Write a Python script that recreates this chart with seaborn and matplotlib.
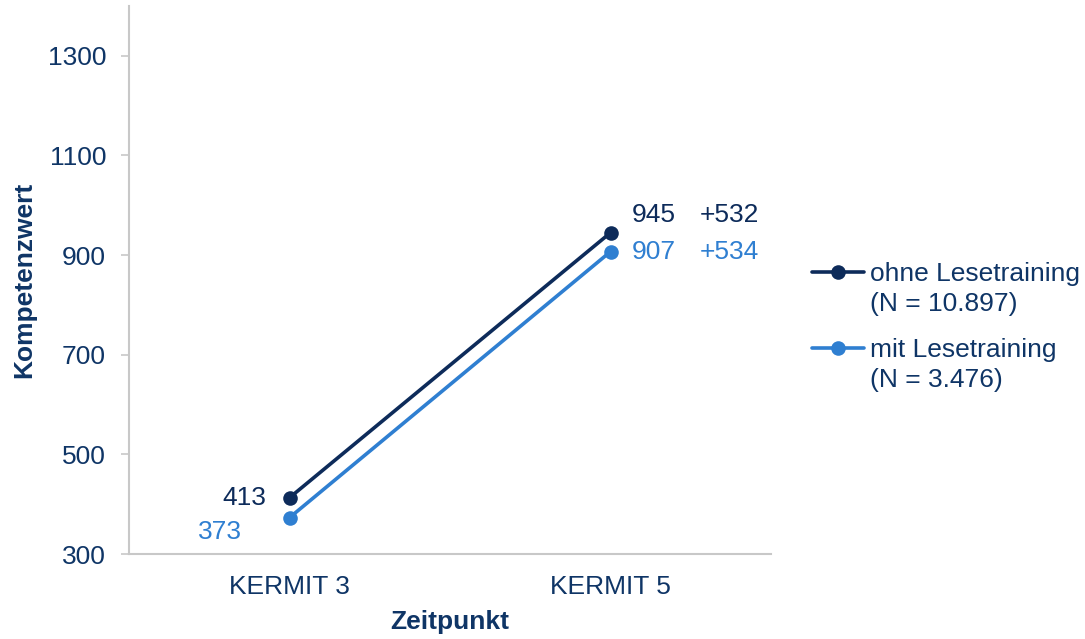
import matplotlib
matplotlib.use("Agg")
import matplotlib.pyplot as plt
from matplotlib.lines import Line2D
import seaborn as sns
import pandas as pd

zeitpunkte = ["KERMIT 3", "KERMIT 5"]
gruppen = ["ohne Lesetraining", "mit Lesetraining"]
stichproben = ["(N = 10.897)", "(N = 3.476)"]
ohne_werte = [413, 945]
mit_werte = [373, 907]
zuwachs = ["+532", "+534"]

navy = "#0d2b5a"
hellblau = "#2f7fd1"
textfarbe = "#0f3566"
fs = 19

sns.set_theme(style="white")
plt.rcParams["font.family"] = ["Liberation Sans", "DejaVu Sans"]

df = pd.DataFrame({
    "Zeitpunkt": zeitpunkte * 2,
    "Kompetenzwert": ohne_werte + mit_werte,
    "Gruppe": [gruppen[0]] * 2 + [gruppen[1]] * 2,
})

fig = plt.figure(figsize=(10.85, 6.39), dpi=100)
ax = fig.add_axes([0.1189, 0.133, 0.5917, 0.8576])

sns.lineplot(data=df, x="Zeitpunkt", y="Kompetenzwert", hue="Gruppe",
             palette=[navy, hellblau], marker="o", markersize=10.5,
             markeredgewidth=0, linewidth=2.6, ax=ax)

ax.set_xlim(-0.5, 1.5)
ax.set_ylim(300, 1400)
ax.set_yticks(range(300, 1301, 200))

for s in ["top", "right"]:
    ax.spines[s].set_visible(False)
for s in ["left", "bottom"]:
    ax.spines[s].set_color("#c8c8c8")
    ax.spines[s].set_linewidth(1.5)

ax.tick_params(axis="y", left=True, length=5.5, width=1.2, color="#c8c8c8",
               labelsize=fs, labelcolor=textfarbe, pad=11)
ax.tick_params(axis="x", bottom=False, length=0, labelsize=fs,
               labelcolor=textfarbe, pad=15)

ax.set_xlabel("Zeitpunkt", fontsize=19, fontweight="bold", color=textfarbe, labelpad=8)
ax.set_ylabel("Kompetenzwert", fontsize=19, fontweight="bold", color=textfarbe, labelpad=8)

# value labels at the points
ax.annotate(str(ohne_werte[0]), (0, ohne_werte[0]), xytext=(-17, 0), textcoords="offset points",
            ha="right", va="center", fontsize=fs, color=navy)
ax.annotate(str(mit_werte[0]), (0, mit_werte[0]), xytext=(-34, -10), textcoords="offset points",
            ha="right", va="center", fontsize=fs, color=hellblau)
ax.annotate(str(ohne_werte[1]), (1, ohne_werte[1]), xytext=(15, 13), textcoords="offset points",
            ha="left", va="center", fontsize=fs, color=navy)
ax.annotate(str(mit_werte[1]), (1, mit_werte[1]), xytext=(15, 0), textcoords="offset points",
            ha="left", va="center", fontsize=fs, color=hellblau)
ax.annotate(zuwachs[0], (1, ohne_werte[1]), xytext=(64, 13), textcoords="offset points",
            ha="left", va="center", fontsize=fs, color=navy)
ax.annotate(zuwachs[1], (1, mit_werte[1]), xytext=(64, 0), textcoords="offset points",
            ha="left", va="center", fontsize=fs, color=hellblau)

# legend: one block per group, handle next to the first line
handles, labels = ax.get_legend_handles_labels()
ax.get_legend().remove()
leer = Line2D([], [], color="none")
tops = [0.590, 0.471]
for h, name, n, top in zip(handles, gruppen, stichproben, tops):
    leg = fig.legend([h, leer], [name, n], loc="upper left",
                     bbox_to_anchor=(0.748, top), frameon=False, fontsize=fs,
                     handlelength=2.0, handletextpad=0.2, labelspacing=0.22,
                     borderaxespad=0, borderpad=0)
    for t in leg.get_texts():
        t.set_color(textfarbe)

fig.savefig("out.png", dpi=100)
